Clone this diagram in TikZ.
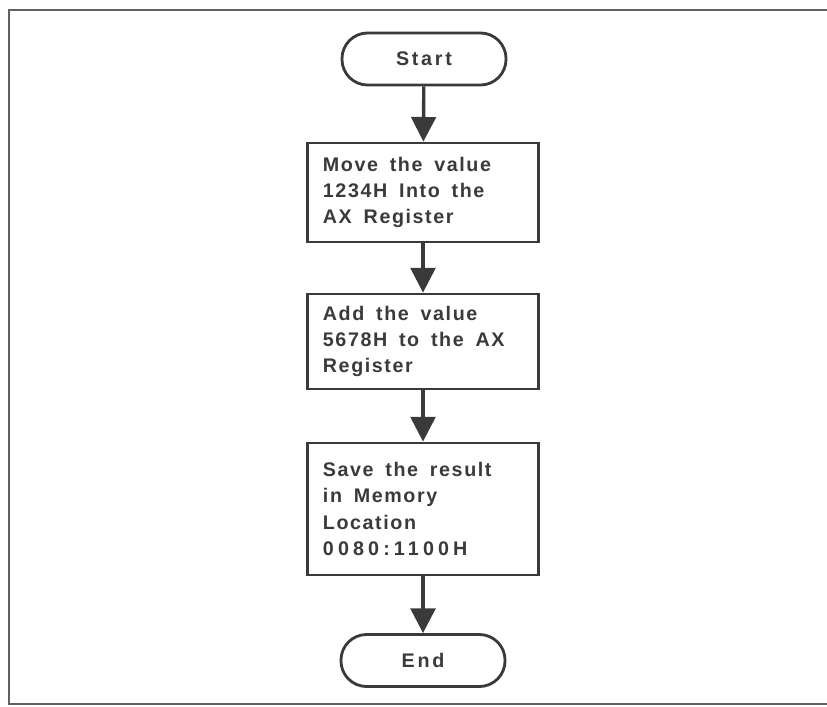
\documentclass[tikz,border=0pt]{standalone}
\usepackage{fontspec}
\newfontfamily\chartfont[LetterSpace=8]{Liberation Sans}
\newfontfamily\chartwide[LetterSpace=21]{Liberation Sans}
\newfontfamily\termfont[LetterSpace=14]{Liberation Sans}
\newcommand\wordgap{\spaceskip=0.6em\relax}
\usetikzlibrary{arrows.meta}
\definecolor{ink}{HTML}{3A3A3A}
\begin{document}
\begin{tikzpicture}[x=0.025cm,y=-0.025cm,
    every node/.style={font=\chartfont\bfseries\fontsize{14}{18.8}\selectfont,
        text=ink},
    terminal/.style={draw=ink, line width=2pt, rectangle, rounded corners=0.64cm,
        minimum width=4.1cm, minimum height=1.3cm,
        font=\termfont\bfseries\fontsize{14}{18.8}\selectfont},
    process/.style={draw=ink, line width=2pt, rectangle, align=left,
        text width=5.0cm, inner xsep=0.375cm, minimum width=5.775cm,
        execute at begin node=\wordgap},
    flow/.style={draw=ink, line width=2.4pt,
        -{Triangle[length=17.5pt,width=17.5pt]}}]
    \useasboundingbox (0,0) rectangle (827,706);
    % Frame, open on the right
    \draw[ink!80, line width=1.4pt] (827,10) -- (9,10) -- (9,704) -- (827,704);
    % Terminals
    \node[terminal] (start) at (424,59) {Start};
    \node[terminal] (end) at (423,660.5) {End};
    % Process steps
    \node[process, minimum height=2.475cm] (move) at (423,192.5)
        {Move the value\\1234H Into the\\AX Register};
    \node[process, minimum height=2.375cm] (add) at (423,341.5)
        {Add the value\\5678H to the AX\\Register};
    \node[process, minimum height=3.3cm] (save) at (423,509)
        {Save the result\\in Memory\\Location\\{\chartwide 0080:1100H}};
    % Connectors
    \draw[flow] (start) -- (move);
    \draw[flow] (move) -- (add);
    \draw[flow] (add) -- (save);
    \draw[flow] (save) -- (end);
\end{tikzpicture}
\end{document}
